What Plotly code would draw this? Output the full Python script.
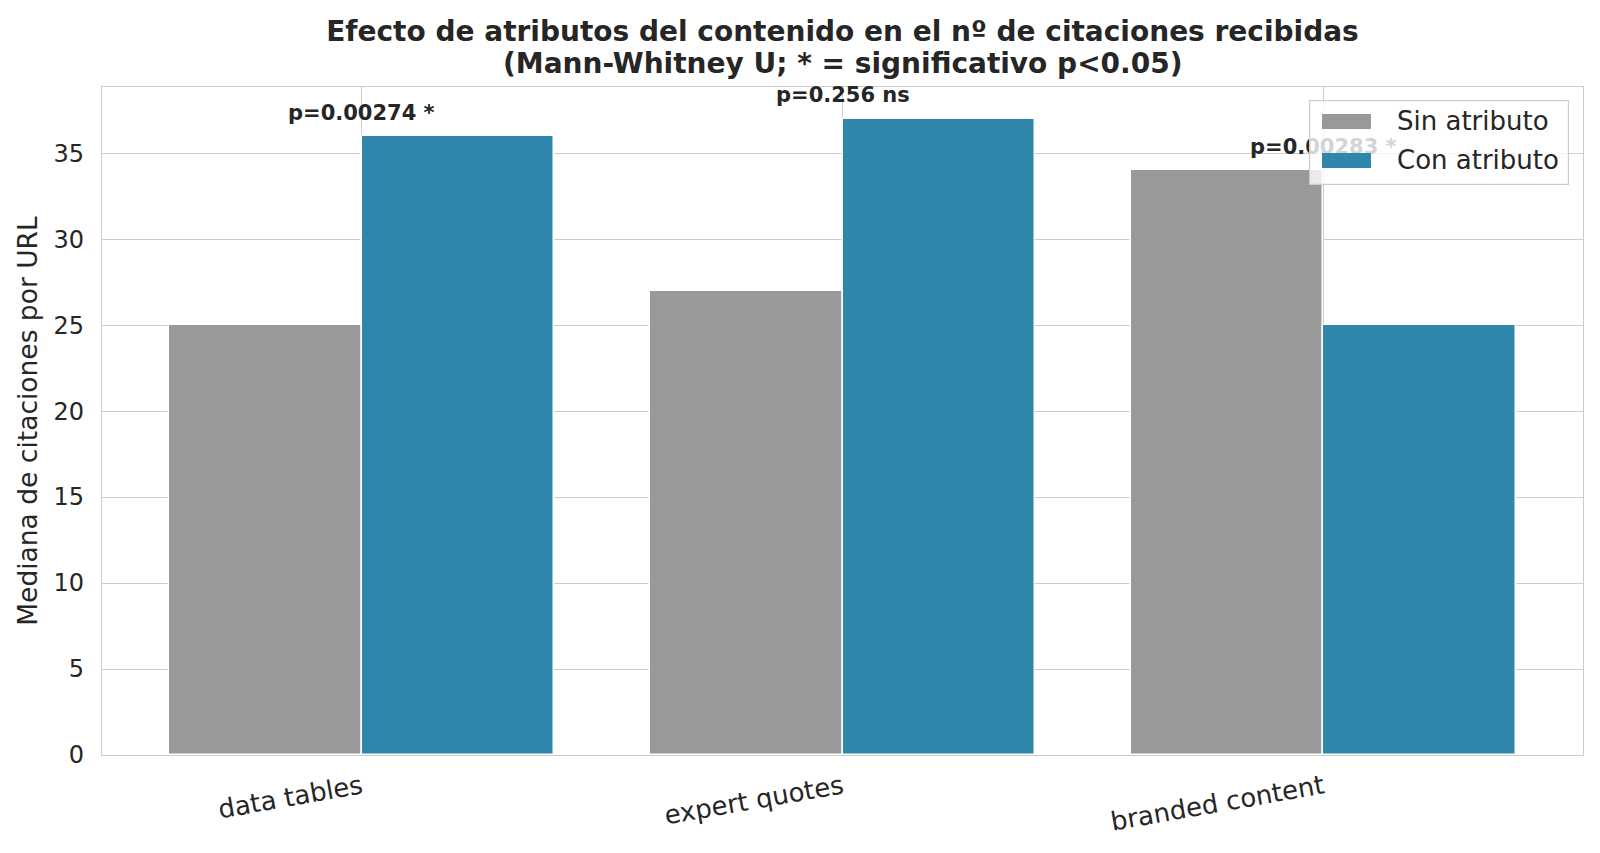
import plotly.graph_objects as go

categories = ["data tables", "expert quotes", "branded content"]
sin_atributo = [25, 27, 34]
con_atributo = [36, 37, 25]
p_labels = ["p=0.00274 *", "p=0.256 ns", "p=0.00283 *"]
series_names = ["Sin atributo", "Con atributo"]

FONT = "DejaVu Sans"
TXT = "#262626"
GRID = "#cccccc"
GRAY = "#999999"
BLUE = "#2E86AB"

x_pos = list(range(len(categories)))

fig = go.Figure()
fig.add_trace(go.Bar(
    x=x_pos, y=sin_atributo, name=series_names[0], offset=-0.4, width=0.4,
    marker=dict(color=GRAY, line=dict(color="white", width=1.5)),
))
fig.add_trace(go.Bar(
    x=x_pos, y=con_atributo, name=series_names[1], offset=0.0, width=0.4,
    marker=dict(color=BLUE, line=dict(color="white", width=1.5)),
))

# p-value labels above each pair
for i, lab in enumerate(p_labels):
    top = max(sin_atributo[i], con_atributo[i])
    fig.add_annotation(
        x=x_pos[i], y=top + 0.55, text="<b>%s</b>" % lab, showarrow=False,
        yanchor="bottom", xanchor="center",
        font=dict(family=FONT, size=21, color=TXT),
    )

# legend built from annotations so the box sits over the last p-value label
# (semi-transparent, like matplotlib's framealpha) and the swatches are wide
fig.add_annotation(
    xref="paper", yref="paper", x=0.9905, y=0.9805, xanchor="right", yanchor="top",
    text="&#160;", showarrow=False, width=258, height=83, borderpad=0,
    bgcolor="rgba(255,255,255,0.8)", bordercolor=GRID, borderwidth=1.2,
)
for name, col, yc in [(series_names[0], GRAY, 0.9484), (series_names[1], BLUE, 0.8907)]:
    fig.add_annotation(
        xref="paper", yref="paper", x=0.8403, y=yc, xanchor="center", yanchor="middle",
        text="&#160;", showarrow=False, width=49, height=15, borderpad=0,
        bgcolor=col, borderwidth=0,
    )
    fig.add_annotation(
        xref="paper", yref="paper", x=0.8731, y=yc, xanchor="left", yanchor="middle",
        text=name, showarrow=False,
        font=dict(family=FONT, size=26, color=TXT),
    )

# second title line
fig.add_annotation(
    xref="paper", yref="paper", x=0.5, y=1.0359, xanchor="center", yanchor="middle",
    text="<b>(Mann-Whitney U; * = significativo p<0.05)</b>", showarrow=False,
    font=dict(family=FONT, size=28, color=TXT),
)

ymax = max(max(sin_atributo), max(con_atributo)) * 1.05

fig.update_layout(
    width=1584, height=837,
    paper_bgcolor="white", plot_bgcolor="white",
    font=dict(family=FONT, color=TXT),
    margin=dict(l=94, r=9, t=79, b=90),
    bargap=0, barmode="overlay", showlegend=False,
    title=dict(
        text="<b>Efecto de atributos del contenido en el nº de citaciones recibidas</b>",
        xref="paper", x=0.5, xanchor="center",
        yref="container", y=0.9725, yanchor="middle",
        font=dict(family=FONT, size=28, color=TXT),
    ),
    xaxis=dict(
        tickmode="array", tickvals=x_pos, ticktext=categories,
        range=[-0.54, 2.54], tickangle=-10,
        showgrid=True, gridcolor=GRID, gridwidth=1.2,
        showline=True, linecolor=GRID, linewidth=1.2, mirror=True,
        ticks="", zeroline=False, automargin=False, ticklabelstandoff=6,
        tickfont=dict(family=FONT, size=26, color=TXT),
    ),
    yaxis=dict(
        range=[0, ymax], dtick=5,
        showgrid=True, gridcolor=GRID, gridwidth=1.2,
        showline=True, linecolor=GRID, linewidth=1.2, mirror=True,
        ticks="", zeroline=False, automargin=False, ticklabelstandoff=12,
        tickfont=dict(family=FONT, size=24, color=TXT),
        title=dict(text="Mediana de citaciones por URL", standoff=8,
                   font=dict(family=FONT, size=26.5, color=TXT)),
    ),
)

fig.write_html("out.html")
